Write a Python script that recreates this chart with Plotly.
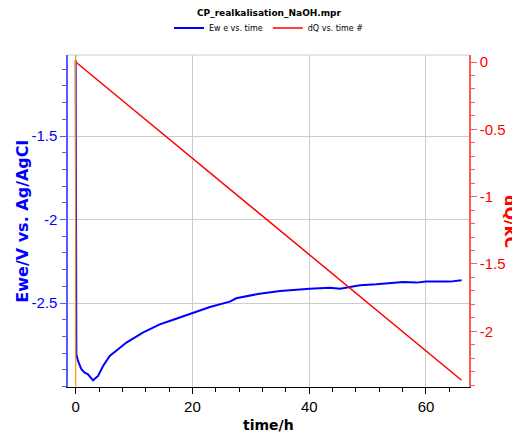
import plotly.graph_objects as go

# ---- data ----
t_ewe = [0, 0.03, 0.11, 0.4, 0.97, 1.54, 2.11, 2.97, 3.83, 4.69, 5.83, 7.26, 8.69,
         11.5, 14.4, 16.1, 17.8, 20, 23, 26.4, 27.5, 31.5, 35, 40.1, 43.5, 45.3,
         48.7, 51.5, 56.1, 58.4, 60, 64.1, 66.1]
ewe = [-1.047, -2.70, -2.807, -2.847, -2.897, -2.917, -2.927, -2.963, -2.937, -2.877,
       -2.817, -2.777, -2.737, -2.678, -2.628, -2.608, -2.588, -2.558, -2.524, -2.492,
       -2.472, -2.444, -2.428, -2.414, -2.408, -2.414, -2.394, -2.388, -2.374, -2.378,
       -2.372, -2.372, -2.364]

t_dq = [0, 66.1]
dq = [0.0, -2.364]

x_ticks = [0, 20, 40, 60]
y1_ticks = [-2.5, -2, -1.5]
y1_labels = ["-2.5", "-2", "-1.5"]
y2_ticks = [-2, -1.5, -1, -0.5, 0]
y2_labels = ["-2", "-1.5", "-1", "-0.5", "0"]

TICKFONT = "Liberation Sans, Arial, sans-serif"
TITLEFONT = "DejaVu Sans, Verdana, sans-serif"
BLUE_AX = "#5a5aff"
RED_AX = "#ff5a5a"

# the page body adds an 8px margin; size the figure to fit the 520x432 window
O = 8
W, H = 520 - O, 432 - O
PX_L, PX_R, PX_T, PX_B = 68.3 - O, 469 - O, 54.7 - O, 386.7 - O
PW, PH = PX_R - PX_L, PX_B - PX_T

fig = go.Figure()
fig.add_trace(go.Scatter(x=t_ewe, y=ewe, mode="lines", name="Ew e vs. time",
                         line=dict(color="#0000ff", width=2), yaxis="y"))
fig.add_trace(go.Scatter(x=t_dq, y=dq, mode="lines", name="dQ vs. time #",
                         line=dict(color="#ff0000", width=1.5), yaxis="y2"))

fig.update_layout(
    width=W, height=H,
    margin=dict(l=PX_L, r=W - PX_R, t=PX_T, b=H - PX_B, autoexpand=False),
    paper_bgcolor="white", plot_bgcolor="white",
    font=dict(family=TICKFONT, size=15, color="black"),
    title=dict(text="<b>CP_realkalisation_NaOH.mpr</b>", x=(269 - O) / W,
               xanchor="center", y=1 - (12.5 - O) / H, yanchor="middle",
               font=dict(family=TITLEFONT, size=9, color="black")),
    showlegend=True,
    legend=dict(orientation="h", x=(269 - O) / W, xref="container", xanchor="center",
                y=1 - (28 - O) / H, yref="container", yanchor="middle",
                font=dict(family=TITLEFONT, size=8), itemwidth=30,
                bgcolor="rgba(0,0,0,0)", tracegroupgap=0),
    xaxis=dict(range=[-1.32, 67.37], tickvals=x_ticks, ticks="outside", ticklen=6,
               tickcolor="black", linecolor="black", showline=True, zeroline=False,
               showgrid=True, gridcolor="#cccccc", gridwidth=1, automargin=False,
               minor=dict(dtick=4, tick0=0, ticks="outside", ticklen=4,
                          tickcolor="black", showgrid=False),
               tickfont=dict(size=15, color="black")),
    yaxis=dict(range=[-3.003, -1.015], tickvals=y1_ticks, ticktext=y1_labels,
               ticks="outside", ticklen=6, tickcolor=BLUE_AX, linecolor=BLUE_AX,
               linewidth=1.5, showline=True, zeroline=False, showgrid=True,
               gridcolor="#cccccc", gridwidth=1, automargin=False,
               minor=dict(dtick=0.1, tick0=0, ticks="outside", ticklen=4,
                          tickcolor=BLUE_AX, showgrid=False),
               tickfont=dict(size=15, color="#0000ff")),
    yaxis2=dict(range=[-2.414, 0.052], tickvals=y2_ticks, ticktext=y2_labels,
                overlaying="y", side="right", ticks="outside", ticklen=6,
                tickcolor=RED_AX, linecolor=RED_AX, linewidth=1.5, showline=True,
                zeroline=False, showgrid=False, automargin=False,
                minor=dict(dtick=0.1, tick0=0, ticks="outside", ticklen=4,
                           tickcolor=RED_AX, showgrid=False),
                tickfont=dict(size=15, color="#ff0000")),
)

# top frame line and orange time-zero marker
fig.add_shape(type="line", xref="paper", yref="paper", x0=0, x1=1, y0=1, y1=1,
              line=dict(color="#cccccc", width=1))
fig.add_shape(type="line", xref="x", yref="paper", x0=0, x1=0, y0=0, y1=1,
              line=dict(color="#ff9900", width=1.2))

# axis titles
fig.add_annotation(text="<b>time/h</b>", xref="paper", yref="paper", x=0.5,
                   y=-((425 - O) - PX_B) / PH, xanchor="center", yanchor="middle",
                   showarrow=False, font=dict(family=TITLEFONT, size=14, color="black"))
fig.add_annotation(text="<b>Ewe/V vs. Ag/AgCl</b>", xref="paper", yref="paper",
                   x=-(PX_L - (22 - O)) / PW, y=0.5, xanchor="center", yanchor="middle",
                   textangle=-90, showarrow=False,
                   font=dict(family=TITLEFONT, size=16, color="#0000ff"))
fig.add_annotation(text="<b>dQ/kC</b>", xref="paper", yref="paper",
                   x=1 + ((511 - O) - PX_R) / PW, y=0.5, xanchor="center",
                   yanchor="middle", textangle=90, showarrow=False,
                   font=dict(family=TITLEFONT, size=16, color="#ff0000"))

fig.write_html("out.html")
